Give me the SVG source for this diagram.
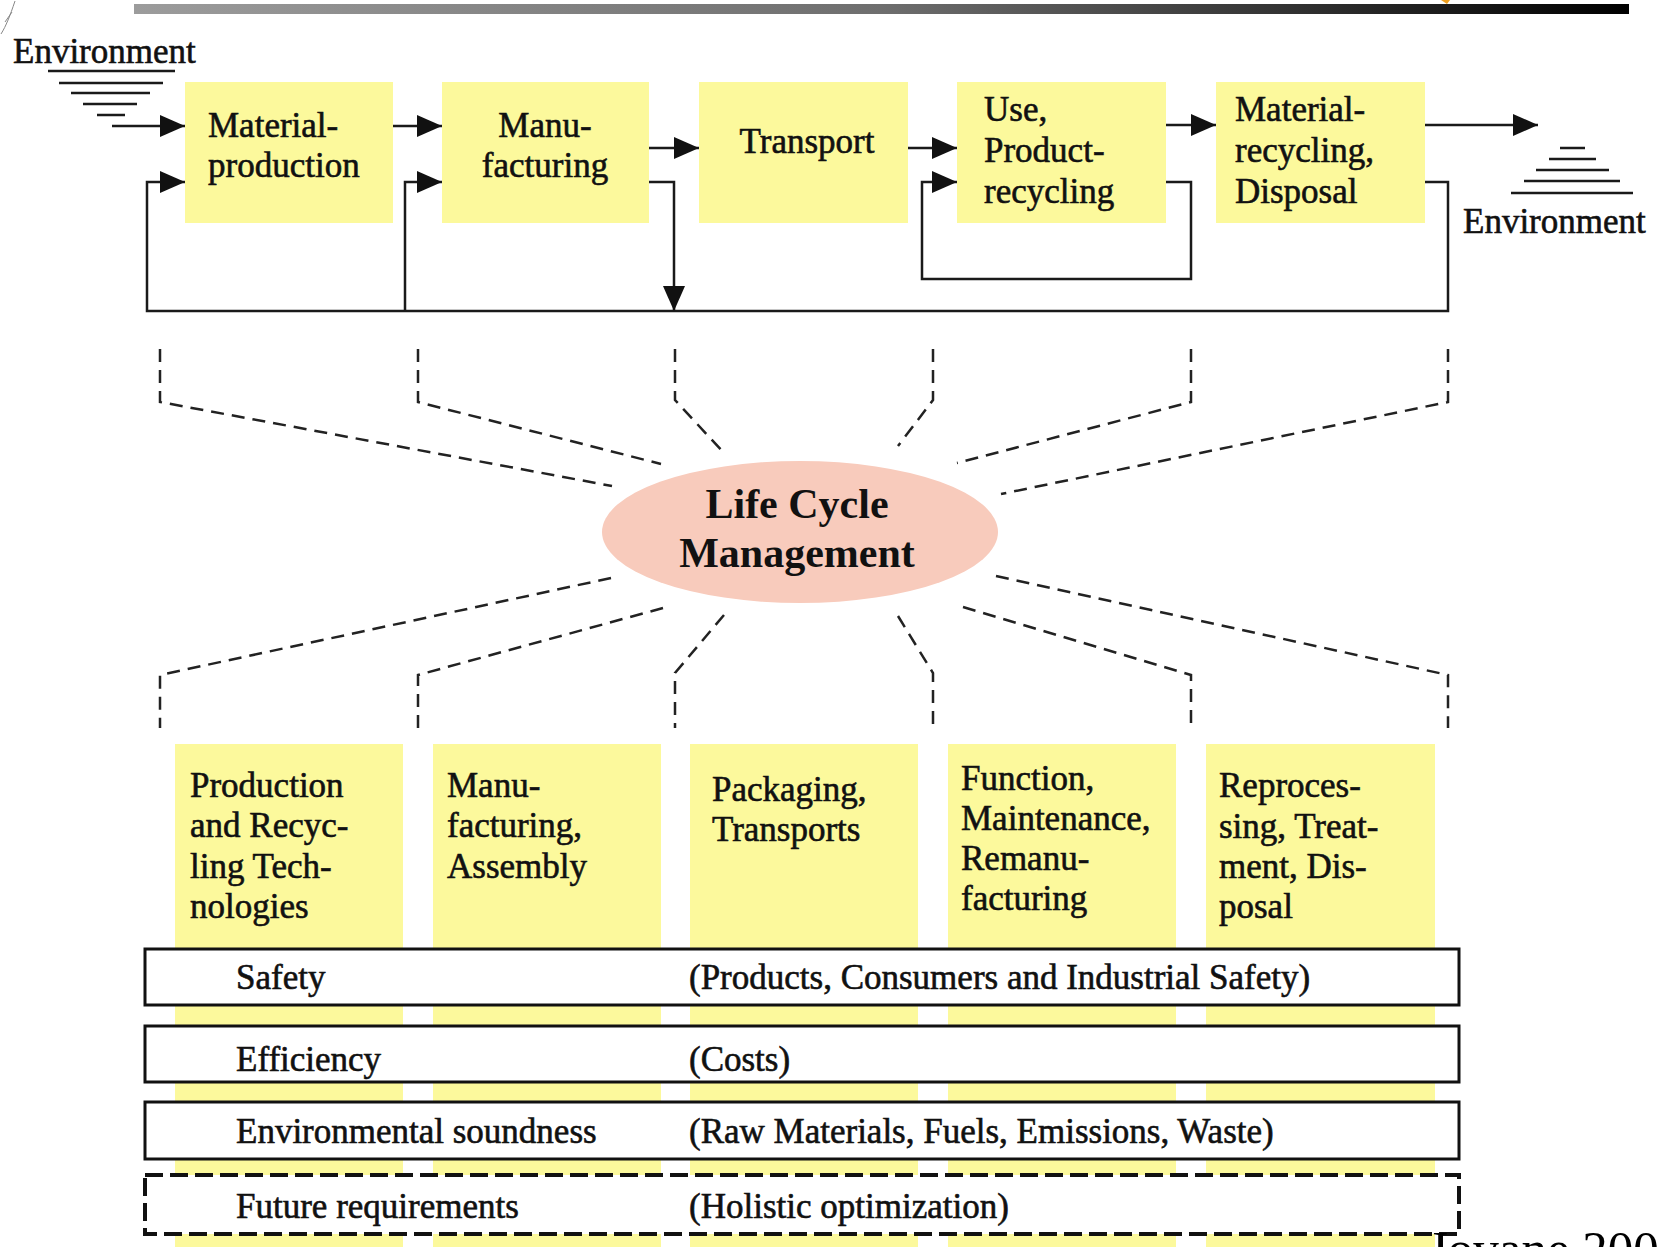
<svg xmlns="http://www.w3.org/2000/svg" width="1659" height="1247" viewBox="0 0 1659 1247">
<defs>
<linearGradient id="topbar" x1="0" x2="1" y1="0" y2="0">
<stop offset="0" stop-color="#9c9c9c"/><stop offset="0.5" stop-color="#6e6e6e"/><stop offset="1" stop-color="#000"/>
</linearGradient>
<marker id="ah" markerUnits="userSpaceOnUse" markerWidth="26" markerHeight="24" viewBox="0 0 26 24" refX="25" refY="12" orient="auto">
<path d="M0,1 L25,12 L0,23 Z" fill="#111"/>
</marker>
</defs>
<style>
.t{font-family:"Liberation Serif","Times New Roman",serif;font-size:35px;fill:#111;stroke:#111;stroke-width:0.6}
.lcm{font-family:"Liberation Serif","Times New Roman",serif;font-size:42px;font-weight:bold;fill:#111}
.box{fill:#FCF99C}
.ln{fill:none;stroke:#1a1a1a;stroke-width:2.5}
.gnd{fill:none;stroke:#1a1a1a;stroke-width:2.5}
.ds{fill:none;stroke:#222;stroke-width:2.5;stroke-dasharray:13 8}
.bar{fill:#fff;stroke:#111;stroke-width:3}
.bard{fill:#fff;stroke:#111;stroke-width:4;stroke-dasharray:18 7}
</style>
<rect x="0" y="0" width="1659" height="1247" fill="#fff"/>
<rect x="134" y="4" width="1495" height="10" fill="url(#topbar)"/>
<path d="M1441,0 L1450,0 L1447,4 Z" fill="#f0a020"/>
<path d="M1,34 C6,26 10,16 15,1 M5,22 L12,12" fill="none" stroke="#888" stroke-width="1"/>

<!-- environment left -->
<g id="env-in">
<text class="t" x="13" y="63">Environment</text>
<path class="gnd" d="M48,71 H175 M59,83 H163 M71,93 H150 M83,104 H137 M97,115 H125"/>
</g>
<g id="env-out">
<path class="gnd" d="M1560,148 H1585 M1549,159 H1596 M1536,170 H1609 M1524,181 H1620 M1511,193 H1633"/>
<text class="t" x="1463" y="233">Environment</text>
</g>

<!-- top process boxes -->
<g id="material-production">
<rect class="box" x="185" y="82" width="208" height="141"/>
<text class="t" x="208" y="137">Material-</text>
<text class="t" x="208" y="177">production</text>
</g>
<g id="manufacturing">
<rect class="box" x="442" y="82" width="207" height="141"/>
<text class="t" x="545" y="137" text-anchor="middle">Manu-</text>
<text class="t" x="545" y="177" text-anchor="middle">facturing</text>
</g>
<g id="transport">
<rect class="box" x="699" y="82" width="209" height="141"/>
<text class="t" x="807" y="153" text-anchor="middle">Transport</text>
</g>
<g id="use">
<rect class="box" x="957" y="82" width="209" height="141"/>
<text class="t" x="984" y="121">Use,</text>
<text class="t" x="984" y="162">Product-</text>
<text class="t" x="984" y="203">recycling</text>
</g>
<g id="material-recycling">
<rect class="box" x="1216" y="82" width="209" height="141"/>
<text class="t" x="1235" y="121">Material-</text>
<text class="t" x="1235" y="162">recycling,</text>
<text class="t" x="1235" y="203">Disposal</text>
</g>

<!-- LCM ellipse -->
<g id="lcm">
<ellipse cx="800" cy="532" rx="198" ry="71" fill="#F8CBBC"/>
<text class="lcm" x="797" y="518" text-anchor="middle">Life Cycle</text>
<text class="lcm" x="797" y="567" text-anchor="middle">Management</text>
</g>

<!-- lower columns -->
<g id="col-production">
<rect class="box" x="175" y="744" width="228" height="503"/>
<text class="t" x="190" y="797">Production</text>
<text class="t" x="190" y="837">and Recyc-</text>
<text class="t" x="190" y="878">ling Tech-</text>
<text class="t" x="190" y="918">nologies</text>
</g>
<g id="col-manufacturing">
<rect class="box" x="433" y="744" width="228" height="503"/>
<text class="t" x="447" y="797">Manu-</text>
<text class="t" x="447" y="837">facturing,</text>
<text class="t" x="447" y="878">Assembly</text>
</g>
<g id="col-packaging">
<rect class="box" x="690" y="744" width="228" height="503"/>
<text class="t" x="712" y="801">Packaging,</text>
<text class="t" x="712" y="841">Transports</text>
</g>
<g id="col-function">
<rect class="box" x="948" y="744" width="228" height="503"/>
<text class="t" x="961" y="790">Function,</text>
<text class="t" x="961" y="830">Maintenance,</text>
<text class="t" x="961" y="870">Remanu-</text>
<text class="t" x="961" y="910">facturing</text>
</g>
<g id="col-reprocessing">
<rect class="box" x="1206" y="744" width="229" height="503"/>
<text class="t" x="1219" y="797">Reproces-</text>
<text class="t" x="1219" y="838">sing, Treat-</text>
<text class="t" x="1219" y="878">ment, Dis-</text>
<text class="t" x="1219" y="918">posal</text>
</g>

<!-- requirement bars -->
<g id="bar-safety">
<rect class="bar" x="145" y="949" width="1314" height="56"/>
<text class="t" x="236" y="989">Safety</text>
<text class="t" x="689" y="989">(Products, Consumers and Industrial Safety)</text>
</g>
<g id="bar-efficiency">
<rect class="bar" x="145" y="1026" width="1314" height="56"/>
<text class="t" x="236" y="1071">Efficiency</text>
<text class="t" x="689" y="1071">(Costs)</text>
</g>
<g id="bar-environment">
<rect class="bar" x="145" y="1102" width="1314" height="57"/>
<text class="t" x="236" y="1143">Environmental soundness</text>
<text class="t" x="689" y="1143">(Raw Materials, Fuels, Emissions, Waste)</text>
</g>
<g id="bar-future">
<rect class="bard" x="145" y="1175" width="1314" height="59"/>
<text class="t" x="236" y="1218">Future requirements</text>
<text class="t" x="689" y="1218">(Holistic optimization)</text>
</g>

<!-- connectors -->
<g id="connectors">
<path class="ln" d="M112,126 H185" marker-end="url(#ah)"/>
<path class="ln" d="M393,126 H442" marker-end="url(#ah)"/>
<path class="ln" d="M649,148 H699" marker-end="url(#ah)"/>
<path class="ln" d="M908,148 H957" marker-end="url(#ah)"/>
<path class="ln" d="M1166,125 H1216" marker-end="url(#ah)"/>
<path class="ln" d="M1425,125 H1538" marker-end="url(#ah)"/>
<path class="ln" d="M1425,182 H1448 V311 H147 V182 H185" marker-end="url(#ah)"/>
<path class="ln" d="M405,311 V182 H442" marker-end="url(#ah)"/>
<path class="ln" d="M649,182 H674 V311" marker-end="url(#ah)"/>
<path class="ln" d="M1166,182 H1191 V279 H922 V182 H957" marker-end="url(#ah)"/>

<path class="ds" d="M160,349 V402 L612,486"/>
<path class="ds" d="M418,349 V402 L661,464"/>
<path class="ds" d="M675,349 V400 L724,453"/>
<path class="ds" d="M933,349 V400 L898,446"/>
<path class="ds" d="M1191,349 V402 L957,463"/>
<path class="ds" d="M1448,349 V402 L1001,494"/>

<path class="ds" d="M611,578 L160,675 V728"/>
<path class="ds" d="M663,608 L418,675 V728"/>
<path class="ds" d="M724,615 L675,673 V728"/>
<path class="ds" d="M898,616 L933,673 V728"/>
<path class="ds" d="M963,607 L1191,675 V728"/>
<path class="ds" d="M996,576 L1448,675 V728"/>
</g>

<text x="1428" y="1266" style="font-family:'Liberation Serif','Times New Roman',serif;font-size:51px;fill:#000">Jovane 2008</text>
</svg>
